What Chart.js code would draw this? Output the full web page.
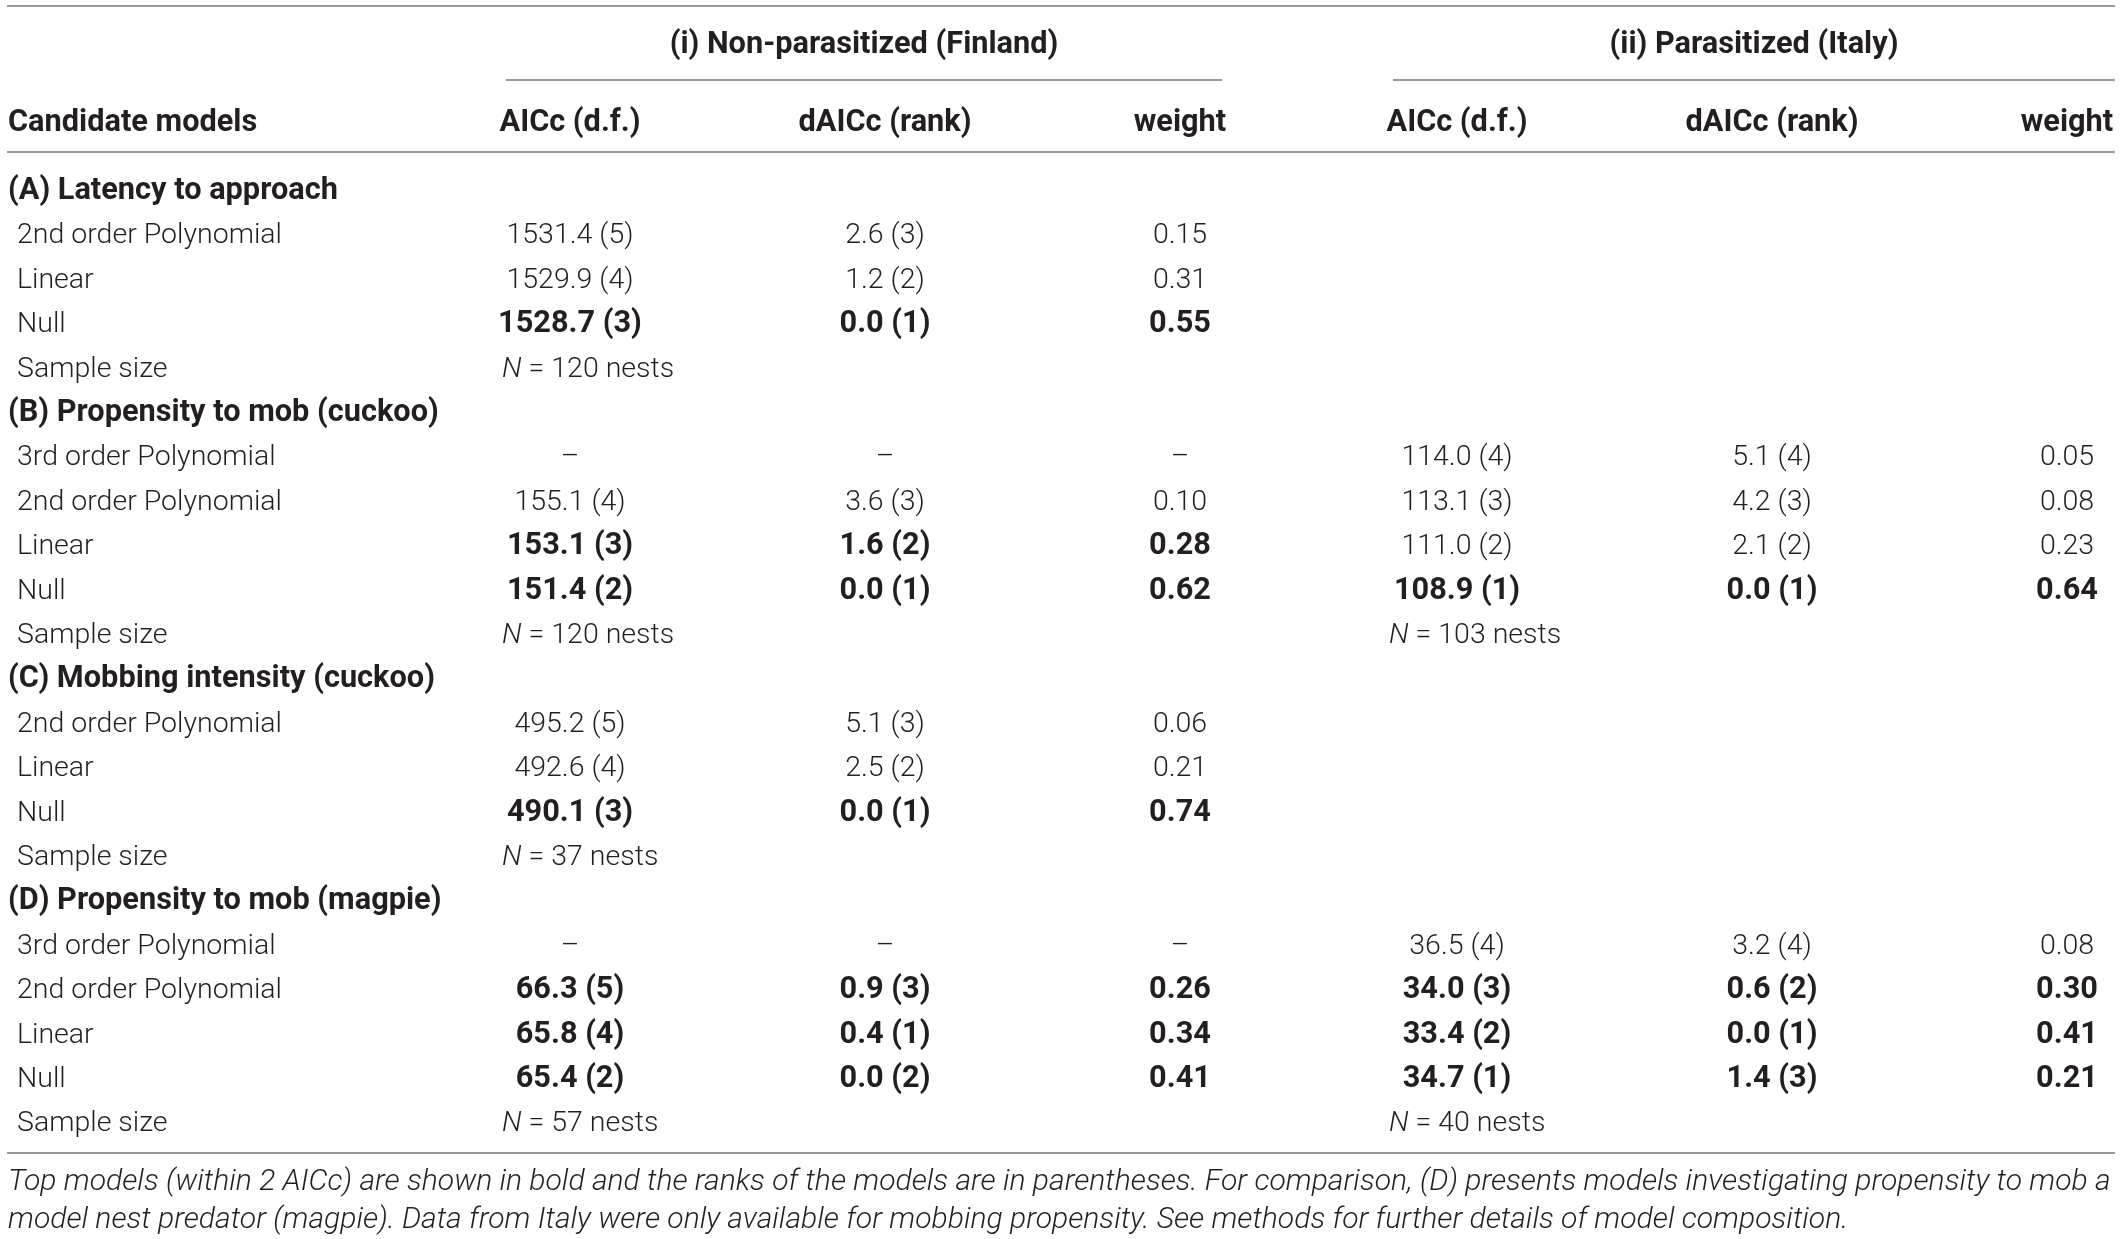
<!DOCTYPE html>
<html>
<head>
<meta charset="utf-8">
<script src="https://cdn.jsdelivr.net/npm/chart.js@4.4.1/dist/chart.umd.min.js"></script>
<style>
  html, body { margin: 0; padding: 0; background: #ffffff; }
  #wrap { width: 2120px; height: 1239px; position: relative; }
</style>
</head>
<body>
<div id="wrap"><canvas id="c" width="2120" height="1239"></canvas></div>
<script>
// ---------------- DATA ----------------
const groupTitles = ['(i) Non-parasitized (Finland)', '(ii) Parasitized (Italy)'];
const columnHeaders = ['Candidate models', 'AICc (d.f.)', 'dAICc (rank)', 'weight', 'AICc (d.f.)', 'dAICc (rank)', 'weight'];

const rowLabels = [
  '(A) Latency to approach', '2nd order Polynomial', 'Linear', 'Null', 'Sample size',
  '(B) Propensity to mob (cuckoo)', '3rd order Polynomial', '2nd order Polynomial', 'Linear', 'Null', 'Sample size',
  '(C) Mobbing intensity (cuckoo)', '2nd order Polynomial', 'Linear', 'Null', 'Sample size',
  '(D) Propensity to mob (magpie)', '3rd order Polynomial', '2nd order Polynomial', 'Linear', 'Null', 'Sample size'
];
const sectionRows = [0, 5, 11, 16];
const sampleRows = [4, 10, 15, 21];

const finAICc = [null, '1531.4 (5)', '1529.9 (4)', '1528.7 (3)', null,
  null, '–', '155.1 (4)', '153.1 (3)', '151.4 (2)', null,
  null, '495.2 (5)', '492.6 (4)', '490.1 (3)', null,
  null, '–', '66.3 (5)', '65.8 (4)', '65.4 (2)', null];
const finDAICc = [null, '2.6 (3)', '1.2 (2)', '0.0 (1)', null,
  null, '–', '3.6 (3)', '1.6 (2)', '0.0 (1)', null,
  null, '5.1 (3)', '2.5 (2)', '0.0 (1)', null,
  null, '–', '0.9 (3)', '0.4 (1)', '0.0 (2)', null];
const finWeight = [null, '0.15', '0.31', '0.55', null,
  null, '–', '0.10', '0.28', '0.62', null,
  null, '0.06', '0.21', '0.74', null,
  null, '–', '0.26', '0.34', '0.41', null];
const finBoldRows = [3, 8, 9, 14, 18, 19, 20];

const itaAICc = [null, null, null, null, null,
  null, '114.0 (4)', '113.1 (3)', '111.0 (2)', '108.9 (1)', null,
  null, null, null, null, null,
  null, '36.5 (4)', '34.0 (3)', '33.4 (2)', '34.7 (1)', null];
const itaDAICc = [null, null, null, null, null,
  null, '5.1 (4)', '4.2 (3)', '2.1 (2)', '0.0 (1)', null,
  null, null, null, null, null,
  null, '3.2 (4)', '0.6 (2)', '0.0 (1)', '1.4 (3)', null];
const itaWeight = [null, null, null, null, null,
  null, '0.05', '0.08', '0.23', '0.64', null,
  null, null, null, null, null,
  null, '0.08', '0.30', '0.41', '0.21', null];
const itaBoldRows = [9, 18, 19, 20];

const finSampleN = [120, 120, 37, 57];     // per sampleRows
const itaSampleN = [null, 103, null, 40];  // per sampleRows

const footnoteLines = [
  'Top models (within 2 AICc) are shown in bold and the ranks of the models are in parentheses. For comparison, (D) presents models investigating propensity to mob a',
  'model nest predator (magpie). Data from Italy were only available for mobbing propensity. See methods for further details of model composition.'
];

// ---------------- LAYOUT (table units) ----------------
const X_MAX = 2120;
const colCenters = [570, 885, 1180, 1457, 1772, 2067];
const sampleLeft = [502, 1389];
const labelLeft = 17, sectionLeft = 8;
const groupSpans = [[506, 1222], [1393, 2115]];
const rowPitch = 44.4, firstBaseline = 199;
const rowOf = px => (px - firstBaseline) / rowPitch;
const Y_MIN = rowOf(0), Y_MAX = rowOf(1239);
const titleRow = rowOf(53), headerRow = rowOf(131);
const rules = [
  { y: rowOf(6), x0: 7, x1: 2115 },
  { y: rowOf(80), x0: groupSpans[0][0], x1: groupSpans[0][1] },
  { y: rowOf(80), x0: groupSpans[1][0], x1: groupSpans[1][1] },
  { y: rowOf(152), x0: 7, x1: 2115 },
  { y: rowOf(1153), x0: 7, x1: 2115 }
];
const footRows = [rowOf(1190), rowOf(1228)];

const FONT = "Roboto, 'Liberation Sans', Arial, sans-serif";
const TXT = '#231f20';
const LINE = '#9a9a9a';
// calibration: target widths of sample strings in the reference (table units)
const calib = {
  regular: { text: '2nd order Polynomial', w: 265 },
  bold: { text: '(A) Latency to approach', w: 330 },
  foot: { text: footnoteLines[0], w: 2103 }
};

// ---------------- DATASETS ----------------
const valueCols = [
  { vals: finAICc, bold: finBoldRows },
  { vals: finDAICc, bold: finBoldRows },
  { vals: finWeight, bold: finBoldRows },
  { vals: itaAICc, bold: itaBoldRows },
  { vals: itaDAICc, bold: itaBoldRows },
  { vals: itaWeight, bold: itaBoldRows }
];
const datasets = valueCols.map((col, ci) => {
  const pts = [];
  col.vals.forEach((v, r) => {
    if (v !== null) pts.push({ x: colCenters[ci], y: r, text: v, bold: col.bold.includes(r) });
  });
  return { label: 'col' + ci, data: pts, pointRadius: 0, pointHoverRadius: 0, showLine: false };
});

const tablePlugin = {
  id: 'tableText',
  afterDatasetsDraw(chart) {
    const ctx = chart.ctx;
    const xs = chart.scales.x, ys = chart.scales.y;
    const unit = (xs.getPixelForValue(1000) - xs.getPixelForValue(0)) / 1000;
    ctx.save();
    const spec = (weight, style, size) => (style || 'normal') + ' ' + weight + ' ' + size.toFixed(2) + 'px ' + FONT;
    const fit = (weight, style, c) => {
      ctx.font = spec(weight, style, 100);
      return 100 * c.w * unit / ctx.measureText(c.text).width;
    };
    const sReg = fit(300, 'normal', calib.regular);
    const sBold = fit(700, 'normal', calib.bold);
    const sFoot = fit(300, 'italic', calib.foot);
    const fReg = spec(300, 'normal', sReg), fBold = spec(700, 'normal', sBold);
    const fIt = spec(300, 'italic', sReg), fFoot = spec(300, 'italic', sFoot);

    // rules
    ctx.strokeStyle = LINE;
    ctx.lineWidth = 2;
    rules.forEach(r => {
      const y = Math.round(ys.getPixelForValue(r.y));
      ctx.beginPath();
      ctx.moveTo(xs.getPixelForValue(r.x0), y);
      ctx.lineTo(xs.getPixelForValue(r.x1), y);
      ctx.stroke();
    });
    ctx.fillStyle = TXT;
    ctx.textBaseline = 'alphabetic';
    // group titles
    ctx.font = fBold;
    ctx.textAlign = 'center';
    groupTitles.forEach((t, i) => {
      const cx = (groupSpans[i][0] + groupSpans[i][1]) / 2;
      ctx.fillText(t, xs.getPixelForValue(cx), ys.getPixelForValue(titleRow));
    });
    // column headers
    ctx.textAlign = 'left';
    ctx.fillText(columnHeaders[0], xs.getPixelForValue(sectionLeft), ys.getPixelForValue(headerRow));
    ctx.textAlign = 'center';
    for (let i = 1; i < columnHeaders.length; i++) {
      ctx.fillText(columnHeaders[i], xs.getPixelForValue(colCenters[i - 1]), ys.getPixelForValue(headerRow));
    }
    // row labels
    ctx.textAlign = 'left';
    rowLabels.forEach((lab, r) => {
      const sec = sectionRows.includes(r);
      ctx.font = sec ? fBold : fReg;
      ctx.fillText(lab, xs.getPixelForValue(sec ? sectionLeft : labelLeft), ys.getPixelForValue(r));
    });
    // cells from dataset elements
    ctx.textAlign = 'center';
    chart.data.datasets.forEach((ds, di) => {
      const meta = chart.getDatasetMeta(di);
      meta.data.forEach((el, i) => {
        const p = ds.data[i];
        ctx.font = p.bold ? fBold : fReg;
        ctx.fillText(p.text, el.x, el.y);
      });
    });
    // sample sizes
    ctx.textAlign = 'left';
    [finSampleN, itaSampleN].forEach((arr, g) => {
      arr.forEach((n, k) => {
        if (n === null) return;
        const y = ys.getPixelForValue(sampleRows[k]);
        let x = xs.getPixelForValue(sampleLeft[g]);
        ctx.font = fIt;
        ctx.fillText('N', x, y);
        x += ctx.measureText('N').width;
        ctx.font = fReg;
        ctx.fillText(' = ' + n + ' nests', x, y);
      });
    });
    // footnote
    ctx.font = fFoot;
    footnoteLines.forEach((t, i) => {
      ctx.fillText(t, xs.getPixelForValue(sectionLeft), ys.getPixelForValue(footRows[i]));
    });
    ctx.restore();
  }
};

new Chart(document.getElementById('c'), {
  type: 'scatter',
  data: { datasets },
  options: {
    responsive: false,
    animation: false,
    devicePixelRatio: 1,
    events: [],
    layout: { padding: 0 },
    plugins: { legend: { display: false }, tooltip: { enabled: false }, title: { display: false } },
    scales: {
      x: { type: 'linear', display: false, min: 0, max: X_MAX },
      y: { type: 'linear', display: false, min: Y_MIN, max: Y_MAX, reverse: true }
    }
  },
  plugins: [tablePlugin]
});
</script>
</body>
</html>
